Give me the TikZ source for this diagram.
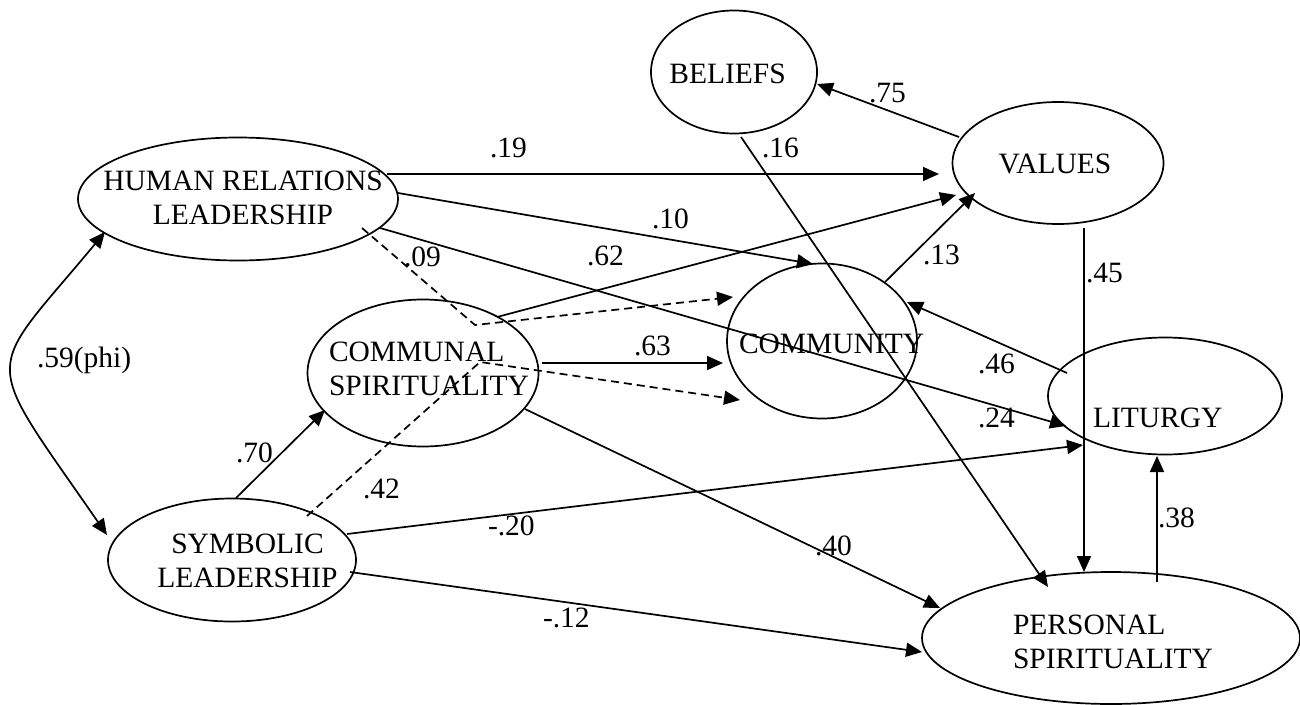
\documentclass[tikz,border=0pt]{standalone}
\usepackage{fontspec}
\setmainfont{Liberation Serif}
\usetikzlibrary{shapes.geometric,arrows.meta,calc}
\begin{document}
\begin{tikzpicture}[x=1pt,y=-1pt,
  ell/.style={draw,ellipse,line width=1.7pt,inner sep=0pt,outer sep=0pt},
  txt/.style={font=\fontsize{29.5}{34}\selectfont,inner sep=0pt,outer sep=0pt},
  lbl/.style={txt,anchor=base west},
  tip/.tip={Triangle[length=16pt,width=14pt]},
  arr/.style={line width=1.7pt,-tip},
  dsh/.style={arr,dash pattern=on 8pt off 5pt}]
\useasboundingbox (0,0) rectangle (1300,704);
% latent variables
\node[ell,minimum width=166pt,minimum height=123pt] (bel) at (734,72) {};
\node[ell,minimum width=211pt,minimum height=122pt] (val) at (1058,163) {};
\node[ell,minimum width=320pt,minimum height=123pt] (hr) at (238,199) {};
\node[ell,minimum width=231pt,minimum height=147pt] (com) at (423,373) {};
\node[ell,minimum width=190pt,minimum height=155pt] (cty) at (822,341) {};
\node[ell,minimum width=234pt,minimum height=117pt] (lit) at (1165,396) {};
\node[ell,minimum width=248pt,minimum height=123pt] (sym) at (232,560) {};
\node[ell,minimum width=378pt,minimum height=132pt] (per) at (1111,638) {};
% texts (multi-line nodes: base = last line)
\node[txt,anchor=base] (belT) at (727.5,83) {BELIEFS};
\node[txt,anchor=base] (valT) at (1055,173) {VALUES};
\node[txt,align=center,anchor=base] (hrT) at (243,224) {HUMAN RELATIONS\\LEADERSHIP};
\node[txt,align=left,anchor=base west] (comT) at (329,395) {COMMUNAL\\SPIRITUALITY};
\node[txt,anchor=base west] (ctyT) at (739,353) {COMMUNITY};
\node[txt,anchor=base west] (litT) at (1093,427) {LITURGY};
\node[txt,align=center,anchor=base] (symT) at (247.5,587) {SYMBOLIC\\LEADERSHIP};
\node[txt,align=left,anchor=base west] (perT) at (1013,668) {PERSONAL\\SPIRITUALITY};
% paths
\draw[arr] ($(hr)+(149,-25)$) -- ($(val)+(-119,11)$);
\draw[arr] ($(hr)+(160,-6)$) -- ($(cty)+(-9,-77)$);
\draw[arr] ($(hr)+(142,29)$) -- ($(lit)+(-99,30)$);
\coordinate (k1) at (475,325);
\coordinate (k2) at (480,362);
\draw[dsh] ($(hr)+(124,29)$) -- (k1) -- ($(cty)+(-89,-44)$);
\draw[dsh] ($(sym)+(75,-44)$) -- (k2) -- ($(cty)+(-82,59)$);
\draw[arr] ($(com)+(74,-56)$) -- ($(val)+(-102,32)$);
\draw[arr] ($(com)+(119,-10)$) -- ($(cty)+(-99,22)$);
\draw[arr] ($(com)+(102,36)$) -- ($(per)+(-171,-30)$);
\draw[arr] ($(cty)+(63,-59)$) -- ($(val)+(-83,30)$);
\draw[arr] ($(lit)+(-98,-23)$) -- ($(cty)+(85,-39)$);
\draw[arr] ($(val)+(26,65)$) -- ($(per)+(-27,-66)$);
\draw[arr] ($(per)+(46,-56)$) -- ($(lit)+(-8,60)$);
\draw[arr] ($(val)+(-99,-26)$) -- ($(bel)+(83,12)$);
\draw[arr] ($(bel)+(7,65)$) -- ($(per)+(-63,-51)$);
\draw[arr] ($(sym)+(4,-62)$) -- ($(com)+(-98,37)$);
\draw[arr] ($(sym)+(115,-26)$) -- ($(lit)+(-82,49)$);
\draw[arr] ($(sym)+(118,12)$) -- ($(per)+(-189,14)$);
\draw[line width=1.7pt,tip-tip] ($(hr)+(-133,33)$) .. controls ($(hr)+(-255,180)$) and ($(sym)+(-253,-210)$) .. ($(sym)+(-125,-25)$);
% coefficients
\node[lbl] (l75) at (869,102) {.75};
\node[lbl] (l16) at (762,157) {.16};
\node[lbl] (l19) at (490,157) {.19};
\node[lbl] (l10) at (652,228) {.10};
\node[lbl] (l62) at (587,265) {.62};
\node[lbl] (l09) at (404,266) {.09};
\node[lbl] (l13) at (923,264) {.13};
\node[lbl] (l45) at (1086,282) {.45};
\node[lbl] (l63) at (634,355) {.63};
\node[lbl] (l46) at (978,373) {.46};
\node[lbl] (l24) at (978,427) {.24};
\node[lbl] (l70) at (236,462) {.70};
\node[lbl] (l42) at (363,498) {.42};
\node[lbl] (l20) at (488,535) {-.20};
\node[lbl] (l40) at (815,555) {.40};
\node[lbl] (l38) at (1158,527) {.38};
\node[lbl] (l12) at (543,627) {-.12};
\node[lbl] (lphi) at (37,367) {.59(phi)};
\end{tikzpicture}
\end{document}
